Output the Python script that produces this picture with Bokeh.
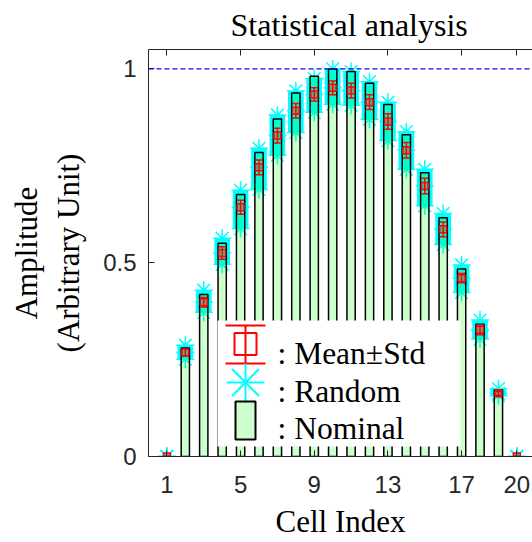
from bokeh.plotting import figure
from bokeh.models import Range1d, LinearAxis, FixedTicker, Span
from bokeh.core.properties import value
from bokeh.embed import file_html
from bokeh.resources import INLINE

# ---------------- data ----------------
cells = list(range(1, 21))
nominal = [0.0, 0.280, 0.418, 0.550, 0.676, 0.784, 0.871, 0.938, 0.981, 1.000,
           0.993, 0.963, 0.908, 0.830, 0.732, 0.616, 0.484, 0.341, 0.172, 0.0]
mean_vals = [0.0, 0.268, 0.398, 0.525, 0.643, 0.746, 0.828, 0.892, 0.934, 0.951,
             0.944, 0.914, 0.864, 0.790, 0.698, 0.586, 0.460, 0.327, 0.163, 0.0]
std_vals = [0.0, 0.009, 0.012, 0.016, 0.018, 0.019, 0.019, 0.019, 0.017, 0.018,
            0.019, 0.019, 0.020, 0.020, 0.020, 0.019, 0.012, 0.013, 0.005, 0.0]
random_lo = [0.0, 0.251, 0.372, 0.496, 0.588, 0.689, 0.777, 0.836, 0.888, 0.909,
             0.906, 0.870, 0.815, 0.741, 0.647, 0.547, 0.423, 0.303, 0.157, 0.0]
random_hi = [0.0, 0.287, 0.429, 0.563, 0.687, 0.795, 0.881, 0.943, 0.975, 1.000,
             0.993, 0.967, 0.914, 0.838, 0.741, 0.627, 0.494, 0.352, 0.175, 0.0]
reference_level = 1.0
x_ticks = [1, 5, 9, 13, 17, 20]
y_ticks = [0, 0.5, 1]
y_tick_labels = ["0", "0.5", "1"]
legend_labels = [": Mean\u00b1Std", ": Random", ": Nominal"]
title_text = "Statistical analysis"

AX = "#262626"
SERIF = "Liberation Serif"
SANS = "Liberation Sans"

p = figure(width=532, height=542, output_backend="svg", toolbar_location=None,
           x_range=Range1d(0, 20.85), y_range=Range1d(0, 1.05),
           min_border_left=148, min_border_right=0, min_border_top=49,
           min_border_bottom=86, title=title_text)
p.outline_line_color = None
p.grid.visible = False
p.background_fill_color = "white"

p.title.text_font = SERIF
p.title.text_font_size = "32px"
p.title.text_font_style = "normal"
p.title.text_color = "black"
p.title.align = "left"
p.title.offset = 82
p.title.standoff = 9
p.title.vertical_align = "top"

# axes
for ax in p.xaxis:
    ax.ticker = FixedTicker(ticks=x_ticks)
    ax.axis_label = "Cell Index"
for ax in p.yaxis:
    ax.ticker = FixedTicker(ticks=y_ticks)
    ax.major_label_overrides = {t: s for t, s in zip(y_ticks, y_tick_labels)}
    ax.axis_label = "Amplitude\n(Arbitrary Unit)"
for ax in list(p.xaxis) + list(p.yaxis):
    ax.major_tick_in = 6
    ax.major_tick_out = 0
    ax.minor_tick_line_color = None
    ax.axis_line_color = AX
    ax.major_tick_line_color = AX
    ax.major_label_text_font = SANS
    ax.major_label_text_font_size = "24px"
    ax.major_label_text_color = AX
    ax.axis_label_text_font = SERIF
    ax.axis_label_text_font_size = "31px"
    ax.axis_label_text_font_style = "normal"
    ax.axis_label_text_color = "black"
p.xaxis.major_label_standoff = 19
p.xaxis.axis_label_standoff = 8
p.yaxis.major_label_standoff = 12
p.yaxis.axis_label_standoff = 14

top_axis = LinearAxis(ticker=FixedTicker(ticks=x_ticks), major_label_text_font_size="1px",
                      major_label_text_color=None, major_label_standoff=0,
                      major_tick_in=6, major_tick_out=0, minor_tick_line_color=None,
                      axis_line_color=AX, major_tick_line_color=AX)
p.add_layout(top_axis, "above")

# reference line
p.add_layout(Span(location=reference_level, dimension="width", line_color="blue",
                  line_dash="5 3", line_width=1.4))

# random samples (cyan stars)
p.vbar(x=cells, bottom=random_lo, top=random_hi, width=0.85, fill_color="cyan",
       line_color=None)
p.scatter(x=cells * 3, y=random_lo + random_hi + mean_vals, marker="asterisk", size=18,
          line_color="cyan", line_width=1.5)

# nominal bars
p.vbar(x=cells, top=nominal, width=0.45, fill_color="#00ff00", fill_alpha=0.2,
       line_color="black", line_width=1.5)

# mean +- std
lower = [m - s for m, s in zip(mean_vals, std_vals)]
upper = [m + s for m, s in zip(mean_vals, std_vals)]
p.segment(x0=cells, y0=lower, x1=cells, y1=upper, line_color="red", line_width=1.5)
p.segment(x0=[c - 0.19 for c in cells], y0=lower, x1=[c + 0.19 for c in cells], y1=lower,
          line_color="red", line_width=1.5)
p.segment(x0=[c - 0.19 for c in cells], y0=upper, x1=[c + 0.19 for c in cells], y1=upper,
          line_color="red", line_width=1.5)
p.scatter(x=cells, y=mean_vals, marker="square", size=7, line_color="red",
          fill_color="red", fill_alpha=0.3, line_width=1.5)

# ---------------- custom legend (pixel coordinates in the frame) ----------------
p.extra_x_ranges = {"px": Range1d(0, 384)}
p.extra_y_ranges = {"px": Range1d(407, 0)}
kw = dict(x_range_name="px", y_range_name="px")
p.quad(left=[69], right=[312], top=[271], bottom=[397], fill_color="white",
       line_color=None, **kw)
p.segment(x0=[97, 77, 77], y0=[276, 276, 314], x1=[97, 117, 117], y1=[314, 276, 314],
          line_color="red", line_width=2, **kw)
p.scatter(x=[97], y=[294.5], marker="square", size=22, line_color="red",
          fill_color=None, line_width=2, **kw)
p.scatter(x=[97], y=[333], marker="asterisk", size=38, line_color="cyan",
          line_width=2, **kw)
p.quad(left=[87], right=[107], top=[352], bottom=[390], fill_color="#00ff00",
       fill_alpha=0.2, line_color="black", line_width=2, **kw)
p.text(x=[129, 129, 129], y=[304, 342, 379], text=legend_labels,
       text_font=value(SERIF), text_font_size="31.5px", text_baseline="alphabetic",
       text_align="left", text_color="black", **kw)

open("out.html", "w").write(file_html(p, INLINE))
